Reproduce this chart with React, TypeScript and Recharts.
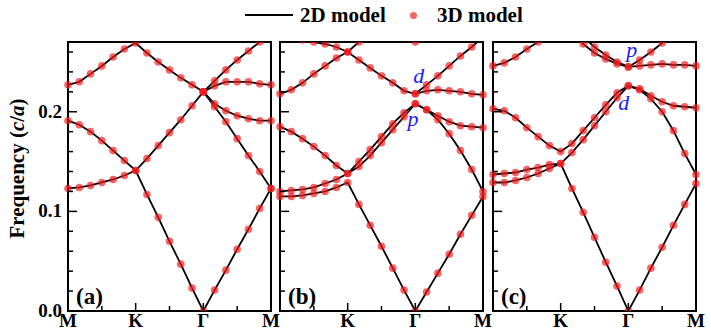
import React from "react";
import { LineChart, Line, XAxis, YAxis, ReferenceArea, ReferenceDot } from "recharts";

const FONT = "Liberation Serif";

// k path M-K-Γ-M, six steps per segment
const K_PATH = [0, 1, 2, 3, 4, 5, 6, 7, 8, 9, 10, 11, 12, 13, 14, 15, 16, 17, 18];
const X_TICKS = [0, 3, 6, 9, 12, 15, 18];
const X_LABELS = ["M", "", "K", "", "Γ", "", "M"];
const Y_TICKS = [0, 0.02, 0.04, 0.06, 0.08, 0.1, 0.12, 0.14, 0.16, 0.18, 0.2, 0.22, 0.24, 0.26];
const Y_LABELS = ["0.0", "", "", "", "", "0.1", "", "", "", "", "0.2", "", "", ""];

const _ = null;

const BANDS_A = [
  [0.123, 0.124, 0.126, 0.129, 0.132, 0.136, 0.141, 0.117, 0.094, 0.070, 0.047, 0.023, 0.000, 0.021, 0.041, 0.062, 0.082, 0.103, 0.123],
  [0.191, 0.187, 0.180, 0.171, 0.161, 0.151, 0.141, 0.153, 0.166, 0.179, 0.192, 0.206, 0.220, 0.205, 0.190, 0.173, 0.156, 0.140, 0.123],
  [0.227, 0.230, 0.238, 0.246, 0.255, 0.263, 0.269, 0.259, 0.250, 0.242, 0.234, 0.227, 0.220, 0.208, 0.201, 0.196, 0.193, 0.191, 0.191],
  [_, _, _, _, _, _, _, _, _, _, _, _, 0.220, 0.226, 0.230, 0.230, 0.230, 0.228, 0.227],
  [_, _, _, _, _, _, _, _, _, _, _, _, 0.220, 0.231, 0.242, 0.252, 0.261, 0.270, 0.280],
];

const BANDS_B = [
  [0.115, 0.115, 0.116, 0.118, 0.120, 0.124, 0.129, 0.107, 0.086, 0.065, 0.043, 0.021, 0.000, 0.019, 0.038, 0.057, 0.077, 0.096, 0.115],
  [0.120, 0.121, 0.122, 0.124, 0.128, 0.132, 0.138, 0.150, 0.162, 0.175, 0.188, 0.199, 0.208, 0.202, 0.192, 0.178, 0.161, 0.142, 0.120],
  [0.185, 0.180, 0.173, 0.165, 0.156, 0.146, 0.138, 0.145, 0.156, 0.169, 0.182, 0.195, 0.208, 0.202, 0.196, 0.190, 0.186, 0.185, 0.184],
  [0.218, 0.222, 0.229, 0.238, 0.246, 0.254, 0.260, 0.252, 0.244, 0.236, 0.229, 0.221, 0.218, 0.221, 0.222, 0.221, 0.220, 0.218, 0.217],
  [_, _, _, _, _, _, _, _, _, _, _, _, 0.218, 0.227, 0.236, 0.246, 0.256, 0.265, 0.275],
  [0.277, 0.274, 0.272, 0.270, 0.268, 0.265, 0.260, 0.270, 0.279, _, _, _, _, _, _, _, _, _, _],
  [_, _, _, _, _, _, _, _, _, _, _, 0.276, 0.270, 0.276, _, _, _, _, _],
];

const BANDS_C = [
  [0.129, 0.129, 0.131, 0.134, 0.138, 0.143, 0.148, 0.123, 0.099, 0.074, 0.049, 0.025, 0.000, 0.021, 0.043, 0.064, 0.086, 0.107, 0.128],
  [0.137, 0.138, 0.139, 0.142, 0.144, 0.147, 0.148, 0.159, 0.172, 0.186, 0.200, 0.214, 0.226, 0.222, 0.213, 0.200, 0.181, 0.158, 0.137],
  [0.203, 0.201, 0.194, 0.184, 0.175, 0.166, 0.160, 0.168, 0.181, 0.194, 0.207, 0.219, 0.226, 0.223, 0.216, 0.210, 0.206, 0.205, 0.204],
  [0.246, 0.249, 0.255, 0.263, 0.270, 0.278, 0.284, 0.280, 0.268, 0.259, 0.253, 0.248, 0.245, 0.246, 0.247, 0.248, 0.247, 0.247, 0.246],
  [_, _, _, _, _, _, _, 0.290, 0.275, 0.265, 0.257, 0.250, 0.245, 0.252, 0.260, 0.269, 0.278, _, _],
];

// orbital labels: [k, frequency, text]
const NOTES_B: [number, number, string][] = [
  [12.3, 0.236, "d"],
  [11.8, 0.193, "p"],
];
const NOTES_C: [number, number, string][] = [
  [12.3, 0.262, "p"],
  [11.6, 0.209, "d"],
];

type Panel = {
  tag: string;
  bands: (number | null)[][];
  notes: [number, number, string][];
  left: number;
  width: number;
  marginLeft: number;
  marginRight: number;
  yAxisWidth: number;
  yLabels: boolean;
  firstX: boolean;
};

const PANELS: Panel[] = [
  { tag: "(a)", bands: BANDS_A, notes: [], left: 0, width: 290, marginLeft: 8, marginRight: 19, yAxisWidth: 60, yLabels: true, firstX: true },
  { tag: "(b)", bands: BANDS_B, notes: NOTES_B, left: 270, width: 230, marginLeft: 0, marginRight: 17, yAxisWidth: 10, yLabels: false, firstX: false },
  { tag: "(c)", bands: BANDS_C, notes: NOTES_C, left: 483, width: 228, marginLeft: 0, marginRight: 15, yAxisWidth: 10, yLabels: false, firstX: false },
];

function XTick(props: any) {
  const { x, y, payload, firstX } = props;
  const i = X_TICKS.indexOf(payload.value);
  const major = i === 2 || i === 4;
  const label = i === 0 && !firstX ? "" : X_LABELS[i];
  return (
    <g>
      {i > 0 && i < 6 && (
        <line x1={x} x2={x} y1={y} y2={y - (major ? 8 : 5)} stroke="#000" strokeWidth={1.5} />
      )}
      <text x={x} y={y + 16} textAnchor="middle" fontFamily={FONT} fontWeight="bold" fontSize={19} fill="#000">
        {label}
      </text>
    </g>
  );
}

function YTick(props: any) {
  const { x, y, payload, yLabels } = props;
  const i = Y_TICKS.indexOf(payload.value);
  const major = Y_LABELS[i] !== "";
  return (
    <g>
      {i > 0 && <line x1={x} x2={x + (major ? 9 : 5)} y1={y} y2={y} stroke="#000" strokeWidth={1.5} />}
      {yLabels && (
        <text x={x - 6} y={y + 6} textAnchor="end" fontFamily={FONT} fontWeight="bold" fontSize={19} fill="#000">
          {Y_LABELS[i]}
        </text>
      )}
    </g>
  );
}

function YTitle(props: any) {
  const vb = props.viewBox;
  const cx = vb.x + 16;
  const cy = vb.y + vb.height / 2 - 8;
  return (
    <text
      x={cx}
      y={cy}
      transform={`rotate(-90 ${cx} ${cy})`}
      textAnchor="middle"
      fontFamily={FONT}
      fontWeight="bold"
      fontSize={21}
      fill="#000"
    >
      Frequency (<tspan fontStyle="italic">c</tspan>/<tspan fontStyle="italic">a</tspan>)
    </text>
  );
}

function BandPanel({ p }: { p: Panel }) {
  const data = K_PATH.map((k, i) => {
    const row: Record<string, number | null> = { k };
    p.bands.forEach((b, j) => {
      row["b" + j] = b[i];
    });
    return row;
  });

  return (
    <div style={{ position: "absolute", left: p.left, top: 0 }}>
      <LineChart
        width={p.width}
        height={336}
        data={data}
        margin={{ top: 42, right: p.marginRight, bottom: 0, left: p.marginLeft }}
      >
        <XAxis
          dataKey="k"
          type="number"
          domain={[0, 18]}
          ticks={X_TICKS}
          interval={0}
          height={25}
          axisLine={false}
          tickLine={false}
          tickSize={0}
          tickMargin={0}
          tick={(t: any) => <XTick {...t} firstX={p.firstX} />}
        />
        <YAxis
          type="number"
          domain={[0, 0.27]}
          allowDataOverflow
          ticks={Y_TICKS}
          interval={0}
          width={p.yAxisWidth}
          axisLine={false}
          tickLine={false}
          tickSize={0}
          tickMargin={0}
          tick={(t: any) => <YTick {...t} yLabels={p.yLabels} />}
          label={p.yLabels ? { content: (l: any) => <YTitle {...l} /> } : undefined}
        />
        {p.bands.map((_b, j) => (
          <Line
            key={"dots" + j}
            dataKey={"b" + j}
            type="linear"
            stroke="none"
            dot={{ r: 3.8, fill: "#f21c1c", fillOpacity: 0.68, stroke: "none" }}
            activeDot={false}
            isAnimationActive={false}
          />
        ))}
        {p.bands.map((_b, j) => (
          <Line
            key={"line" + j}
            dataKey={"b" + j}
            type="linear"
            stroke="#000"
            strokeWidth={1.8}
            dot={false}
            activeDot={false}
            isAnimationActive={false}
          />
        ))}
        <ReferenceArea x1={0} x2={18} y1={0} y2={0.27} fill="none" stroke="#000" strokeWidth={2} ifOverflow="visible" />
        {p.notes.map(([k, v, s], n) => (
          <ReferenceDot
            key={"note" + n}
            x={k}
            y={v}
            r={0}
            ifOverflow="visible"
            shape={(d: any) => (
              <text x={d.cx} y={d.cy + 7} textAnchor="middle" fontFamily={FONT} fontStyle="italic" fontSize={22} fill="#1a1aff">
                {s}
              </text>
            )}
          />
        ))}
        <ReferenceDot
          x={0}
          y={0}
          r={0}
          ifOverflow="visible"
          shape={(d: any) => (
            <text x={d.cx + 8} y={d.cy - 7} fontFamily={FONT} fontWeight="bold" fontSize={23} fill="#000">
              {p.tag}
            </text>
          )}
        />
      </LineChart>
    </div>
  );
}

export default function App() {
  const legendText: React.CSSProperties = {
    position: "absolute",
    top: 3,
    fontFamily: FONT,
    fontWeight: "bold",
    fontSize: 21,
    lineHeight: "24px",
    whiteSpace: "nowrap",
  };
  return (
    <div style={{ position: "absolute", left: 0, top: 0, width: 711, height: 336, background: "#fff" }}>
      {PANELS.map((p) => (
        <BandPanel key={p.tag} p={p} />
      ))}
      <div style={{ position: "absolute", left: 245, top: 14, width: 48, height: 2, background: "#000" }} />
      <div style={{ ...legendText, left: 300 }}>2D model</div>
      <div
        style={{
          position: "absolute",
          left: 410,
          top: 12,
          width: 7,
          height: 7,
          borderRadius: "50%",
          background: "rgba(242,28,28,0.68)",
        }}
      />
      <div style={{ ...legendText, left: 437 }}>3D model</div>
    </div>
  );
}
